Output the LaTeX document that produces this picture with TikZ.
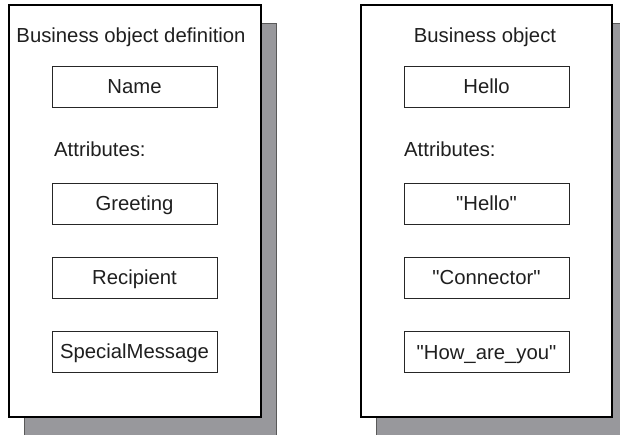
\documentclass[tikz,border=0pt]{standalone}
\usepackage{fontspec}
\setmainfont{Liberation Sans}
\definecolor{shadowgray}{RGB}{152,152,156}
\begin{document}
\begin{tikzpicture}[x=1pt,y=-1pt,
  panel/.style={draw=black, line width=1.2pt, fill=white},
  shadow/.style={draw=black!65, line width=1pt, fill=shadowgray},
  field/.style={draw=black!85, line width=1pt, minimum width=165pt, minimum height=41pt, inner sep=0pt, text height=14.5pt, text depth=-5.5pt, text=black!88, font=\fontsize{20.3}{24}\selectfont},
  lbl/.style={inner sep=0pt, text=black!88, font=\fontsize{20.3}{24}\selectfont}]
\useasboundingbox (0,0) rectangle (620,434);
\clip (0,0) rectangle (620,434);
% left panel
\draw[shadow] (24,23) rectangle (276,440);
\draw[panel] (9,5) rectangle (261,417);
\node[lbl, anchor=base] (t1) at (131,42) {Business object definition};
\node[field] (n1) at (134.5,86.5) {Name};
\node[lbl, anchor=base west] (a1) at (54,156) {Attributes:};
\node[field] (g1) at (134.5,203.5) {Greeting};
\node[field] (r1) at (134.5,277.5) {Recipient};
\node[field] (s1) at (134.5,351.5) {SpecialMessage};
% right panel
\draw[shadow] (376,23) rectangle (630,440);
\draw[panel] (361,5) rectangle (612,417);
\node[lbl, anchor=base] (t2) at (485,42) {Business object};
\node[field] (n2) at (486.5,86.5) {Hello};
\node[lbl, anchor=base west] (a2) at (404,156) {Attributes:};
\node[field] (g2) at (486.5,203.5) {\textquotedbl Hello\textquotedbl};
\node[field] (r2) at (486.5,277.5) {\textquotedbl Connector\textquotedbl};
\node[field] (s2) at (486.5,352) {\textquotedbl How\_are\_you\textquotedbl};
\end{tikzpicture}
\end{document}
